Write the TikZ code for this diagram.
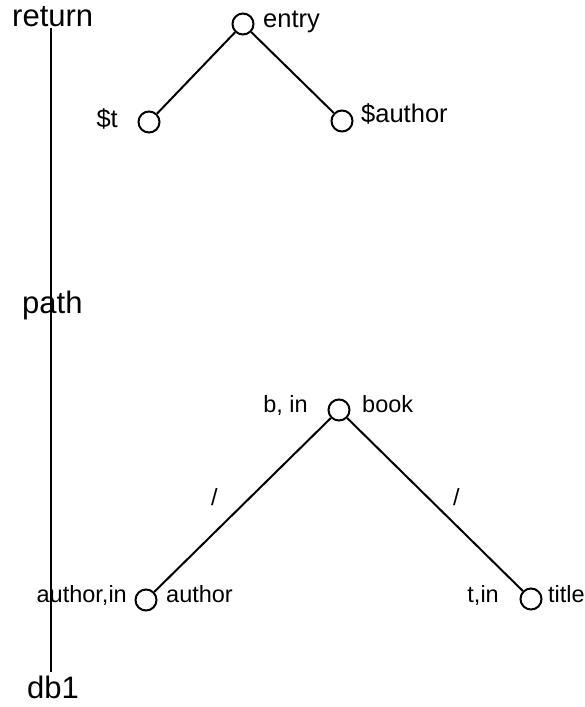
\documentclass[tikz,border=0pt]{standalone}
\usepackage{fontspec}
\setmainfont{Liberation Sans}
\begin{document}
\begin{tikzpicture}[x=1pt,y=-1pt,
  circ/.style={circle,draw,line width=2pt,minimum size=21pt,inner sep=0pt},
  edge/.style={line width=2pt},
  big/.style={anchor=base west,inner sep=0pt,font=\fontsize{31}{31}\selectfont},
  lblA/.style={anchor=base west,inner sep=0pt,font=\fontsize{25.5}{25.5}\selectfont},
  lblB/.style={anchor=base west,inner sep=0pt,font=\fontsize{23.5}{23.5}\selectfont}]
\useasboundingbox (0,0) rectangle (585,707);
% vertical spine
\node[big] (ret) at (12,26) {return};
\node[big] (path) at (22,313) {path};
\node[big] (db) at (27,698) {db1};
\coordinate (vtop) at (51,28);
\coordinate (vbot) at (51,672);
\draw[edge] (vtop) -- (vbot);
% top tree
\node[circ] (entry) at (243,24) {};
\node[circ] (t) at (149,122) {};
\node[circ] (sa) at (342,121) {};
\draw[edge] (entry) -- (t);
\draw[edge] (entry) -- (sa);
\node[lblA] (lentry) at (263,27) {entry};
\node[lblA,anchor=base east] (lt) at (118,127) {\$t};
\node[lblA] (lsa) at (361,122) {\$author};
% bottom tree
\node[circ] (book) at (339,410) {};
\node[circ] (auth) at (146,600) {};
\node[circ] (title) at (531,599) {};
\draw[edge] (book) -- (auth);
\draw[edge] (book) -- (title);
\node[lblB,anchor=base east] (lbin) at (308,412) {b, in};
\node[lblB] (lbook) at (362,412) {book};
\node[lblB] (slash1) at (211,505) {/};
\node[lblB] (slash2) at (453,505) {/};
\node[lblB,anchor=base east] (lauthin) at (127,602) {author,in};
\node[lblB] (lauth) at (166,602) {author};
\node[lblB,anchor=base east] (ltin) at (499,602) {t,in};
\node[lblB] (ltitle) at (548,602) {title};
\end{tikzpicture}
\end{document}
